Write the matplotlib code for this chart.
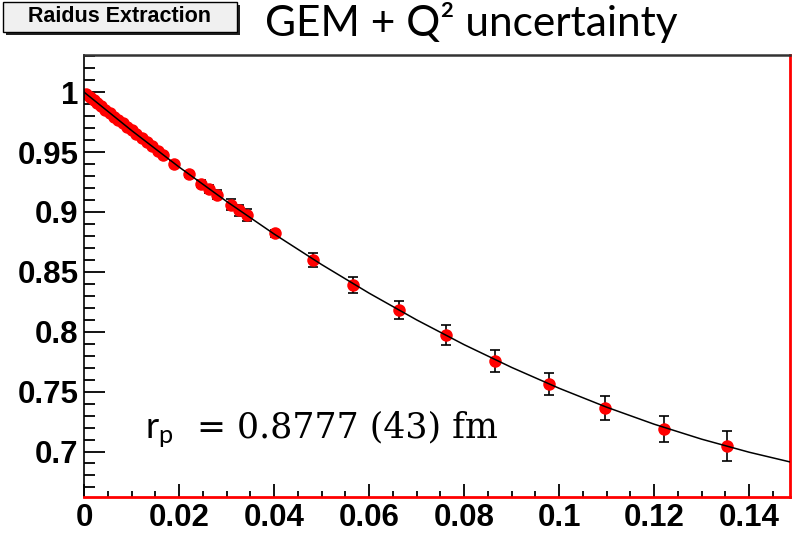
import matplotlib
matplotlib.use("Agg")
import matplotlib.pyplot as plt
from matplotlib.patches import Rectangle
from matplotlib.ticker import MultipleLocator

# data
q2 = [0.0004, 0.0012, 0.0020, 0.0028, 0.0036, 0.0045, 0.0054, 0.0063, 0.0072,
      0.0081, 0.0090, 0.0100, 0.0110, 0.0121, 0.0132, 0.0143, 0.0155, 0.0167,
      0.0189, 0.0220, 0.0246, 0.0262, 0.0279, 0.0309, 0.0327, 0.0344, 0.0402,
      0.0483, 0.0567, 0.0662, 0.0762, 0.0865, 0.0979, 0.1097, 0.1221, 0.1353]
ge = [0.9987, 0.9961, 0.9935, 0.9909, 0.9883, 0.9854, 0.9825, 0.9796, 0.9768,
      0.9739, 0.9711, 0.9680, 0.9649, 0.9614, 0.9581, 0.9547, 0.9510, 0.9474,
      0.9403, 0.9318, 0.9237, 0.9190, 0.9145, 0.9062, 0.9015, 0.8975, 0.8820,
      0.8597, 0.8389, 0.8181, 0.7973, 0.7756, 0.7562, 0.7367, 0.7189, 0.7042]
ge_err = [0.0008, 0.0008, 0.0008, 0.0008, 0.0008, 0.0009, 0.0009, 0.0009, 0.0010,
          0.0010, 0.0010, 0.0011, 0.0011, 0.0012, 0.0012, 0.0013, 0.0013, 0.0014,
          0.0020, 0.0025, 0.0030, 0.0035, 0.0040, 0.0045, 0.0045, 0.0050, 0.0030,
          0.0060, 0.0064, 0.0076, 0.0083, 0.0090, 0.0094, 0.0100, 0.0110, 0.0125]

fit_x = [0.0, 0.01, 0.02, 0.03, 0.04, 0.05, 0.06, 0.07, 0.08, 0.09, 0.10,
         0.11, 0.12, 0.13, 0.14, 0.1486]
fit_y = [1.0, 0.9680, 0.9375, 0.9088, 0.8816, 0.8561, 0.8322, 0.8099, 0.7892,
         0.7702, 0.7528, 0.7370, 0.7228, 0.7103, 0.6994, 0.6913]

box_label = "Raidus Extraction"
title = "GEM + Q\u00b2 uncertainty"

plt.rcParams['mathtext.fontset'] = 'custom'
plt.rcParams['mathtext.rm'] = 'DejaVu Serif'
plt.rcParams['mathtext.sf'] = 'Lato'

fig = plt.figure(figsize=(7.95, 5.33), dpi=100)
ax = fig.add_axes([0.1057, 0.0675, 0.8880, 0.8293])

ax.errorbar(q2, ge, yerr=ge_err, fmt='none', ecolor='black', elinewidth=1.2,
            capsize=3.5, capthick=1.2, zorder=1)
ax.plot(q2, ge, 'o', color='red', markersize=9, markeredgewidth=0, zorder=2)
ax.plot(fit_x, fit_y, color='black', lw=1.1, zorder=3)

ax.set_xlim(0, 0.1486)
ax.set_ylim(0.662, 1.031)

ax.xaxis.set_minor_locator(MultipleLocator(0.005))
ax.yaxis.set_minor_locator(MultipleLocator(0.01))
ax.set_xticks([0, 0.02, 0.04, 0.06, 0.08, 0.1, 0.12, 0.14])
ax.set_xticklabels(["0", "0.02", "0.04", "0.06", "0.08", "0.1", "0.12", "0.14"])
ax.set_yticks([0.7, 0.75, 0.8, 0.85, 0.9, 0.95, 1.0])
ax.set_yticklabels(["0.7", "0.75", "0.8", "0.85", "0.9", "0.95", "1"])

ax.tick_params(axis='y', which='major', direction='in', length=15, width=1.3, pad=4)
ax.tick_params(axis='y', which='minor', direction='in', length=8, width=1.3)
ax.tick_params(axis='x', which='major', direction='in', length=9.5, width=1.3, pad=4)
ax.tick_params(axis='x', which='minor', direction='in', length=4.5, width=1.3)
for lab in ax.get_xticklabels() + ax.get_yticklabels():
    lab.set_fontfamily('Liberation Sans')
    lab.set_fontweight('bold')
    lab.set_fontsize(22.5)

ax.spines['left'].set_color('black')
ax.spines['left'].set_linewidth(1.2)
ax.spines['top'].set_color('#333333')
ax.spines['top'].set_linewidth(1.8)
ax.spines['bottom'].set_color('red')
ax.spines['bottom'].set_linewidth(2)
ax.spines['right'].set_color('red')
ax.spines['right'].set_linewidth(2)

# r_p annotation: sans symbol, serif value
ax.text(0.0128, 0.7114, r"$\mathsf{r_p}$", fontsize=26, color='black')
ax.text(0.0238, 0.7114, "= 0.8777 (43) fm", fontsize=25, color='black',
        family='DejaVu Serif')

# title box with shadow
W, H = 795.0, 533.0
fig.patches.append(Rectangle((6 / W, 1 - 35 / H), 234 / W, 30 / H,
                             transform=fig.transFigure, facecolor='#222222',
                             edgecolor='none', zorder=1))
fig.patches.append(Rectangle((3 / W, 1 - 32 / H), 234 / W, 30 / H,
                             transform=fig.transFigure, facecolor='#f0f0f0',
                             edgecolor='black', lw=1, zorder=2))
fig.text(120 / W, 1 - 17 / H, box_label, fontsize=15.5, fontweight='bold',
         family='Liberation Sans', ha='center', va='center', zorder=3)

fig.text(265 / W, 1 - 36 / H, title, fontsize=30.5, family='Lato',
         ha='left', va='baseline')

fig.savefig("out.png", dpi=100)
